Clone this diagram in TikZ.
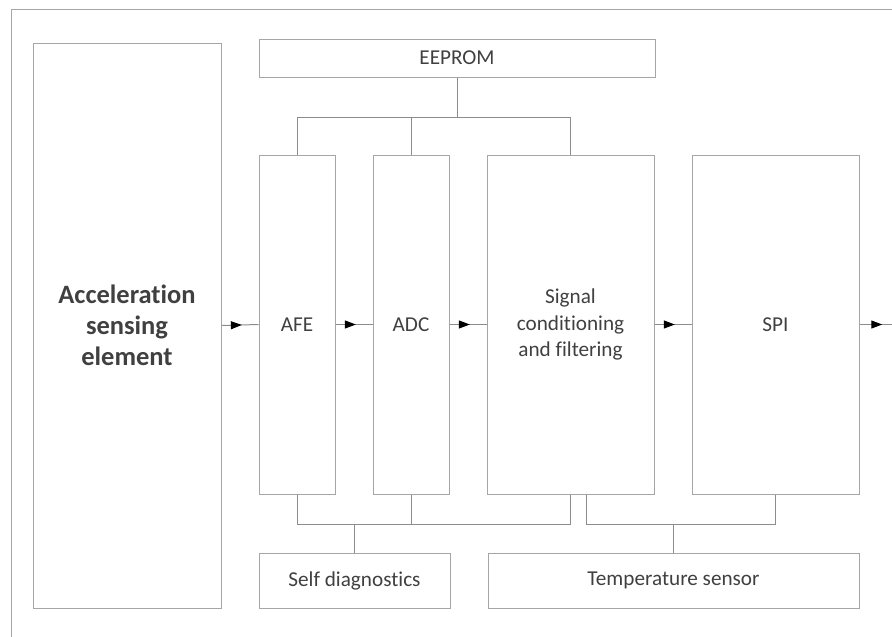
\documentclass[tikz,border=0pt]{standalone}
\usepackage{fontspec}
\setmainfont{Carlito}[Ligatures=NoCommon]
\usetikzlibrary{arrows.meta,decorations.markings}

\definecolor{boxgray}{HTML}{A6A6A6}
\definecolor{wiregray}{HTML}{8C8C8C}
\definecolor{textgray}{HTML}{404040}

\begin{document}
\begin{tikzpicture}
[x=1pt, y=-1pt,
 blocknode/.style={rectangle, draw=boxgray, line width=1pt, inner sep=0pt, align=center,
   text=textgray, font=\fontsize{21.2}{26.5}\selectfont},
 sensornode/.style={blocknode, font=\bfseries\fontsize{26.5}{31}\selectfont},
 wire/.style={draw=wiregray, line width=1pt},
 flow/.style={wire, postaction={decorate}, decoration={markings,
   mark=at position #1 with {\arrow[black]{Triangle[length=11pt,width=8pt]}}}}]
\useasboundingbox (0,0) rectangle (892,637);
\draw[boxgray, line width=1pt] (11,637) |- (892,9);
\node[sensornode, minimum width=188, minimum height=565] (accel) at (127,325.5) {Acceleration\\sensing\\element};
\node[blocknode, minimum width=396, minimum height=38]  (eeprom)   at (457,58)    {EEPROM};
\node[blocknode, minimum width=76,  minimum height=339] (afe)      at (297,324.5) {AFE};
\node[blocknode, minimum width=76,  minimum height=339] (adc)      at (411,324.5) {ADC};
\node[blocknode, minimum width=167, minimum height=339] (sigcond)  at (570.5,324.5) {Signal\\conditioning\\and filtering};
\node[blocknode, minimum width=167, minimum height=339] (spi)      at (775.5,324.5) {SPI};
\node[blocknode, minimum width=191, minimum height=55]  (selfdiag) at (354.5,580.5) {Self diagnostics};
\node[blocknode, minimum width=371, minimum height=55]  (tempsens) at (673.5,580.5) {Temperature sensor};
\coordinate (spiout) at (892,324.5);
\coordinate (topbus) at (0,117);
\coordinate (lowbus) at (0,524);
% signal path
\draw[flow=0.55] (accel.east) -- (afe.west);
\draw[flow=0.55] (afe.east) -- (adc.west);
\draw[flow=0.55] (adc.east) -- (sigcond.west);
\draw[flow=0.55] (sigcond.east) -- (spi.west);
\draw[flow=0.7] (spi.east) -- (spiout);
% EEPROM bus
\draw[wire] (eeprom.south) -- (eeprom.south |- topbus);
\draw[wire] (afe.north) -- (afe.north |- topbus) -- (sigcond.north |- topbus) -- (sigcond.north);
\draw[wire] (adc.north) -- (adc.north |- topbus);
% diagnostics and temperature buses
\draw[wire] (afe.south) -- (afe.south |- lowbus) -- (sigcond.south |- lowbus) -- (sigcond.south);
\draw[wire] (adc.south) -- (adc.south |- lowbus);
\draw[wire] (selfdiag.north) -- (selfdiag.north |- lowbus);
\draw[wire] ([xshift=16pt]sigcond.south) -- ([xshift=16pt]sigcond.south |- lowbus) -- (spi.south |- lowbus) -- (spi.south);
\draw[wire] (tempsens.north) -- (tempsens.north |- lowbus);
\end{tikzpicture}
\end{document}
